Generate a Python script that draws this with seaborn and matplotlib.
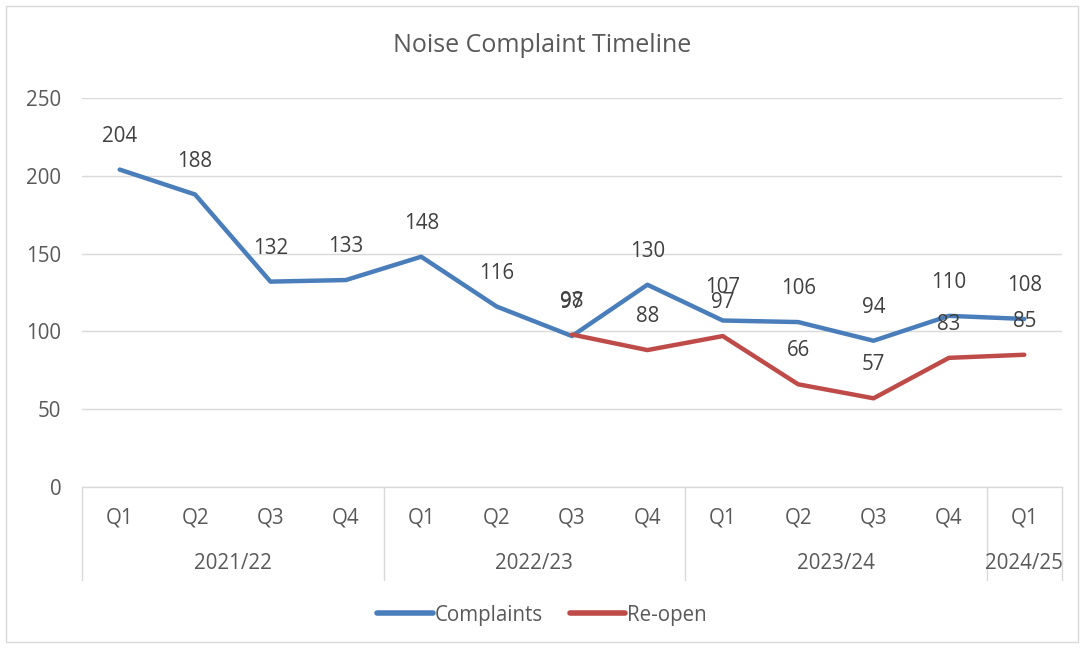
import matplotlib
matplotlib.use("Agg")
import matplotlib.pyplot as plt
import matplotlib.transforms as mtransforms
from matplotlib.patches import Rectangle
import numpy as np
import pandas as pd
import seaborn as sns

quarters = ["Q1", "Q2", "Q3", "Q4", "Q1", "Q2", "Q3", "Q4", "Q1", "Q2", "Q3", "Q4", "Q1"]
years = ["2021/22", "2022/23", "2023/24", "2024/25"]
year_sizes = [4, 4, 4, 1]
complaints = [204, 188, 132, 133, 148, 116, 97, 130, 107, 106, 94, 110, 108]
reopen = [None, None, None, None, None, None, 98, 88, 97, 66, 57, 83, 85]

title = "Noise Complaint Timeline"
blue = "#4A7EBB"
red = "#BE4B48"
txt = "#404040"
tick_col = "#595959"
fs = 14.8

sns.set_theme(style="white")
plt.rcParams["font.family"] = ["Open Sans", "DejaVu Sans"]

idx = np.arange(len(quarters))
df = pd.DataFrame({"pos": idx, "Complaints": complaints,
                   "Re-open": [np.nan if v is None else v for v in reopen]})
long = df.melt(id_vars="pos", var_name="series", value_name="value").dropna()

fig = plt.figure(figsize=(10.84, 6.48), dpi=100)
ax = fig.add_axes([82 / 1084, 1 - 487 / 648, (1062 - 82) / 1084, (487 - 98) / 648])

sns.lineplot(data=long, x="pos", y="value", hue="series",
             palette={"Complaints": blue, "Re-open": red},
             linewidth=3.2, ax=ax, sort=False, legend=True,
             solid_capstyle="round", solid_joinstyle="round")

for vals in (complaints, reopen):
    for i, v in enumerate(vals):
        if v is None:
            continue
        ax.annotate(str(v), (i, v), xytext=(0, 24), textcoords="offset points",
                    ha="center", va="center", fontsize=fs, color=txt)

ax.set_xlim(-0.5, len(quarters) - 0.5)
ax.set_ylim(0, 250)
ax.set_yticks(range(0, 251, 50))
ax.yaxis.grid(True, color="#D9D9D9", linewidth=1)
ax.set_axisbelow(True)
for s in ["top", "right", "left"]:
    ax.spines[s].set_visible(False)
ax.spines["bottom"].set_color("#D9D9D9")
ax.spines["bottom"].set_linewidth(1)
ax.tick_params(axis="y", length=0, pad=15, labelsize=fs, labelcolor=tick_col)
ax.set_xticks(idx)
ax.set_xticklabels(quarters)
ax.tick_params(axis="x", length=0, pad=15, labelsize=fs, labelcolor=tick_col)
ax.set_xlabel("")
ax.set_ylabel("")

trans = mtransforms.blended_transform_factory(ax.transData, ax.transAxes)
bounds = [-0.5]
for n in year_sizes:
    bounds.append(bounds[-1] + n)
for b in bounds:
    ax.plot([b, b], [0, -0.239], transform=trans, color="#D9D9D9",
            linewidth=1, clip_on=False)
for k, y in enumerate(years):
    c = (bounds[k] + bounds[k + 1]) / 2
    ax.text(c, -0.197, y, transform=trans, ha="center", va="center",
            fontsize=fs, color=tick_col)

fig.text(0.5, 1 - 46 / 648, title, ha="center", va="center",
         fontsize=18, color=tick_col)

h, l = ax.get_legend_handles_labels()
ax.legend(h, l, loc="center", bbox_to_anchor=(0.5, 1 - 615 / 648),
          bbox_transform=fig.transFigure, ncol=2, frameon=False,
          fontsize=fs, handlelength=2.7, handletextpad=0.1,
          columnspacing=1.3, labelcolor=tick_col)
for lh in ax.get_legend().get_lines():
    lh.set_linewidth(4)
    lh.set_solid_capstyle("round")

fig.patches.append(Rectangle((6 / 1084, 6 / 648), 1 - 12 / 1084, 1 - 12 / 648,
                             transform=fig.transFigure, fill=False,
                             edgecolor="#D9D9D9", linewidth=1))

fig.savefig("out.png", dpi=100, facecolor="white")
